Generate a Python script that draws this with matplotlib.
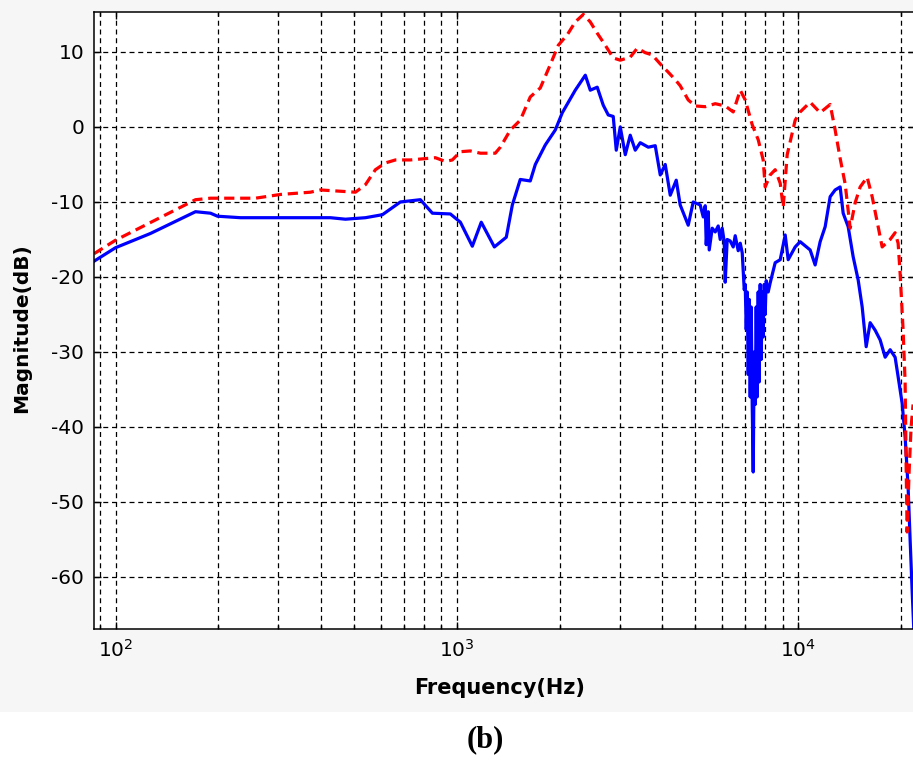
"""Frequency response magnitude, panel (b) - two measured curves on a log axis."""
import matplotlib
matplotlib.use("Agg")
import matplotlib.pyplot as plt
from matplotlib.patches import Rectangle
from matplotlib.ticker import LogLocator, NullFormatter

plt.rcParams["axes.unicode_minus"] = False

# solid blue curve (Hz, dB)
freq_blue = [86.5, 100, 126.6, 171.5, 189.8, 198.9, 232.3, 336.6, 426.2, 471.6,
             539.7, 605.2, 683.3, 781.8, 848, 957.2, 1024, 1110, 1179, 1288,
             1396, 1454, 1534, 1641, 1698, 1816, 1943, 2037, 2223, 2379,
             2460, 2578, 2685, 2777, 2872, 2931, 3011, 3115, 3221, 3332,
             3446, 3638, 3813, 3944, 4079, 4219, 4393, 4512, 4763, 4926,
             5164, 5271, 5342, 5378, 5451, 5488, 5600, 5715, 5831, 5910,
             5991, 6072, 6113, 6196, 6323, 6452, 6540, 6673, 6766, 6857,
             6950, 6997, 7044, 7092, 7140, 7188, 7236, 7285, 7334, 7384,
             7434, 7484, 7534, 7585, 7637, 7688, 7740, 7792, 7845, 7898,
             7952, 8006, 8060, 8170, 8279, 8564, 8859, 9162, 9349, 9800,
             10136, 10842, 11214, 11599, 11998, 12409, 12834, 13275, 13547, 14012,
             14491, 14990, 15401, 15822, 16252, 16810, 17387, 17984, 18600, 19234,
             19627, 20162, 20575, 20994, 21281, 21568, 21863]
mag_blue = [-17.9, -16.1, -14.2, -11.3, -11.5, -11.9, -12.1, -12.1, -12.1, -12.3,
            -12.1, -11.7, -10.0, -9.7, -11.5, -11.6, -12.7, -15.9, -12.7, -16.0,
            -14.7, -10.4, -7.0, -7.2, -5.0, -2.4, -0.4, 1.9, 4.9, 6.9,
            4.9, 5.3, 2.9, 1.6, 1.4, -3.1, 0.0, -3.7, -1.1, -3.1,
            -2.1, -2.7, -2.5, -6.4, -5.0, -9.1, -7.1, -10.4, -13.1, -10.0,
            -10.4, -12.0, -10.5, -15.7, -11.3, -16.4, -13.5, -14.0, -13.2, -15.0,
            -13.5, -15.3, -20.7, -15.0, -15.2, -16.0, -14.5, -16.5, -15.5, -16.8,
            -21.7, -21.0, -27.0, -22.0, -33.0, -23.0, -36.0, -24.0, -37.0, -46.0,
            -30.0, -37.0, -24.0, -36.0, -22.0, -34.0, -21.0, -31.0, -22.0, -28.0,
            -21.0, -25.0, -20.5, -22.0, -20.8, -18.1, -17.7, -14.4, -17.7, -16.0,
            -15.3, -16.4, -18.4, -15.3, -13.3, -9.3, -8.4, -8.0, -11.5, -13.3,
            -17.3, -20.4, -24.0, -29.3, -26.1, -27.1, -28.4, -30.7, -29.7, -30.7,
            -33.3, -36.8, -41.3, -48.0, -55.0, -61.7, -68.0]

# dashed red curve (Hz, dB)
freq_red = [86.5, 100, 171.5, 189.8, 257, 304.2, 372.4, 398.4, 504.5, 539.7,
            577.3, 617.5, 660.6, 730.8, 865, 925.5, 970, 1024, 1095, 1172,
            1296, 1341, 1435, 1534, 1641, 1756, 1878, 1983, 2107, 2223,
            2347, 2460, 2578, 2721, 2872, 3011, 3221, 3378, 3565, 3737,
            3944, 4163, 4364, 4512, 4763, 4993, 5342, 5715, 6113, 6452,
            6766, 6997, 7334, 7637, 7898, 8006, 8279, 8564, 8859, 9040,
            9286, 9800, 10136, 10842, 11599, 12409, 12834, 13275, 13731, 14203,
            14689, 15195, 15928, 16474, 17154, 17623, 18600, 19234, 19627, 19893,
            20299, 20575, 20715, 20854, 21135, 21424, 21713]
mag_red = [-16.9, -15.1, -9.7, -9.5, -9.5, -9.0, -8.7, -8.4, -8.7, -7.7,
           -5.7, -4.8, -4.4, -4.4, -4.1, -4.6, -4.4, -3.3, -3.2, -3.5,
           -3.5, -2.7, -0.4, 0.9, 4.0, 5.2, 8.3, 10.9, 12.3, 14.0,
           15.0, 14.0, 12.5, 10.9, 9.2, 8.9, 9.3, 10.5, 9.9, 9.6,
           8.4, 7.3, 6.3, 5.5, 3.6, 2.8, 2.7, 3.1, 2.8, 2.0,
           4.9, 3.6, 0.3, -1.7, -4.4, -8.0, -6.4, -5.7, -7.5, -10.7,
           -3.7, 0.9, 2.0, 3.3, 1.9, 3.0, -0.4, -4.2, -7.6, -13.5,
           -10.1, -8.0, -6.7, -9.3, -13.3, -16.0, -15.0, -14.1, -15.5, -19.5,
           -27.1, -34.0, -45.0, -54.0, -46.0, -40.0, -37.0]

yticks = [-60, -50, -40, -30, -20, -10, 0, 10]

fig = plt.figure(figsize=(9.13, 7.67), dpi=100)
fig.patches.append(Rectangle((0, 0.072), 1, 0.928, transform=fig.transFigure,
                             facecolor="#f6f6f6", edgecolor="none", zorder=-10))
ax = fig.add_axes([0.103, 0.1793, 0.8996, 0.8051])
ax.set_facecolor("white")

ax.semilogx(freq_blue, mag_blue, color="#0000ff", lw=2.3)
ax.semilogx(freq_red, mag_red, color="#ff0000", lw=2.3, ls=(0, (3.2, 1.8)))

ax.set_xlim(86.5, 22050)
ax.set_ylim(-67, 15.33)
ax.set_yticks(yticks)
ax.xaxis.set_major_locator(LogLocator(base=10, numticks=10))
ax.xaxis.set_minor_locator(LogLocator(base=10, subs=range(2, 10), numticks=100))
ax.xaxis.set_minor_formatter(NullFormatter())

grid_kw = dict(color="black", ls=(0, (4, 3)), lw=0.9)
ax.grid(True, which="both", axis="x", **grid_kw)
ax.grid(True, which="major", axis="y", **grid_kw)
ax.tick_params(which="both", direction="in", top=True, right=True,
               labelsize=14.5, pad=7, width=1)
ax.tick_params(which="major", length=5)
ax.tick_params(which="minor", length=3)
for s in ax.spines.values():
    s.set_linewidth(1.1)

fig.text(500 / 913, 1 - 688 / 767, "Frequency(Hz)", ha="center", va="center",
         fontsize=15, fontweight="bold")
fig.text(22 / 913, 1 - 328 / 767, "Magnitude(dB)", ha="center", va="center",
         rotation=90, fontsize=14.5, fontweight="bold")
fig.text(485 / 913, 1 - 740 / 767, "(b)", ha="center", va="center",
         family="Liberation Serif", fontsize=22, fontweight="bold")

fig.savefig("out.png", dpi=100)
